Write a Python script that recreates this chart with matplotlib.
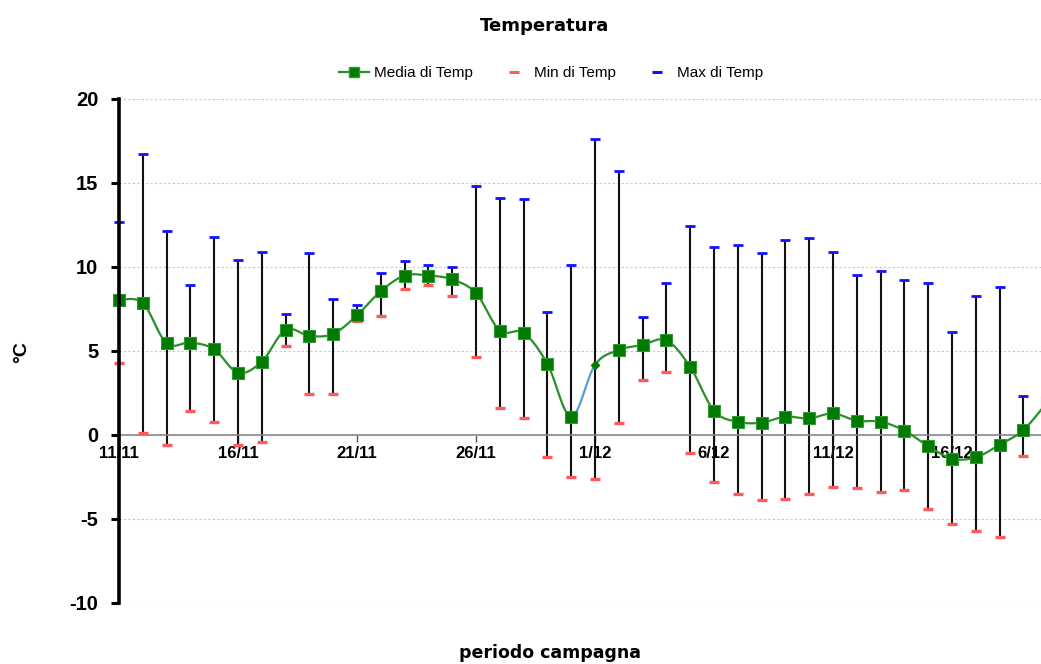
import numpy as np
import matplotlib.pyplot as plt
from matplotlib.lines import Line2D

plt.rcParams['font.family'] = ['Liberation Sans', 'DejaVu Sans']
plt.rcParams['axes.unicode_minus'] = False

# Daily labels 11/11 .. 20/12
giorni = ['11/11', '12/11', '13/11', '14/11', '15/11', '16/11', '17/11', '18/11',
          '19/11', '20/11', '21/11', '22/11', '23/11', '24/11', '25/11', '26/11',
          '27/11', '28/11', '29/11', '30/11', '1/12', '2/12', '3/12', '4/12',
          '5/12', '6/12', '7/12', '8/12', '9/12', '10/12', '11/12', '12/12',
          '13/12', '14/12', '15/12', '16/12', '17/12', '18/12', '19/12', '20/12']

media = [8.04, 7.85, 5.46, 5.50, 5.10, 3.71, 4.37, 6.26, 5.90, 6.02,
         7.13, 8.56, 9.49, 9.49, 9.26, 8.44, 6.22, 6.08, 4.23, 1.09,
         4.17, 5.06, 5.36, 5.64, 4.05, 1.45, 0.78, 0.74, 1.09, 0.99,
         1.28, 0.85, 0.79, 0.26, -0.66, -1.41, -1.33, -0.58, 0.30, 1.95]

minimi = [4.31, 0.10, -0.60, 1.40, 0.78, -0.60, -0.41, 5.30, 2.43, 2.43,
          6.79, 7.09, 8.68, 8.90, 8.28, 4.63, 1.62, 0.99, -1.29, -2.48,
          -2.62, 0.70, 3.30, 3.77, -1.09, -2.80, -3.49, -3.89, -3.81, -3.49,
          -3.12, -3.17, -3.41, -3.29, -4.40, -5.32, -5.69, -6.09, -1.27, np.nan]

massimi = [12.65, 16.74, 12.15, 8.92, 11.76, 10.43, 10.90, 7.19, 10.82, 8.12,
           7.73, 9.63, 10.33, 10.13, 10.01, 14.84, 14.12, 14.04, 7.33, 10.13,
           17.62, 15.73, 7.03, 9.02, 12.43, 11.22, 11.32, 10.82, 11.60, 11.74,
           10.90, 9.53, 9.79, 9.24, 9.02, 6.14, 8.28, 8.80, 2.31, np.nan]

# day with no measured mean (drawn as interpolated point)
giorno_interp = 20

x = np.arange(len(media), dtype=float)
y = np.array(media, dtype=float)


def smooth_segments(xs, ys, n=24):
    """Smooth curve through the points, returned one piece per segment."""
    segs = []
    N = len(xs)
    for i in range(N - 1):
        i0 = max(i - 1, 0)
        i3 = min(i + 2, N - 1)
        p0 = np.array([xs[i0], ys[i0]])
        p1 = np.array([xs[i], ys[i]])
        p2 = np.array([xs[i + 1], ys[i + 1]])
        p3 = np.array([xs[i3], ys[i3]])
        t = np.linspace(0, 1, n)[:, None]
        c1 = p1 + (p2 - p0) / 6.0
        c2 = p2 - (p3 - p1) / 6.0
        pts = ((1 - t) ** 3) * p1 + 3 * ((1 - t) ** 2) * t * c1 + 3 * (1 - t) * t ** 2 * c2 + t ** 3 * p2
        segs.append(pts)
    return segs


fig = plt.figure(figsize=(10.41, 6.64), dpi=100)
ax = fig.add_axes([119 / 1041, 1 - 603 / 664, 1 - 119 / 1041, (603 - 99) / 664])

ax.set_xlim(0, (1041 - 119) / 23.8)
ax.set_ylim(-10, 20)

# grid
ax.set_yticks([-10, -5, 0, 5, 10, 15, 20])
ax.yaxis.grid(True, linestyle=(0, (2, 2)), color='#c8c8c8', linewidth=0.8)
ax.set_axisbelow(True)

# min-max bars
ax.vlines(x, minimi, massimi, color='#111111', linewidth=1.5, zorder=2)
ax.plot(x, massimi, linestyle='none', marker='_', markersize=6.5, mew=2.0,
        color='#1010ff', zorder=3, clip_on=False)
ax.plot(x, minimi, linestyle='none', marker='_', markersize=6.5, mew=2.4,
        color='#ff5a5a', zorder=3, clip_on=False)

# smoothed mean line
segs = smooth_segments(x, y)
for i, s in enumerate(segs):
    col = '#5b9bd5' if i == giorno_interp - 1 else '#2a8f2a'
    ax.plot(s[:, 0], s[:, 1], color=col, linewidth=1.6, zorder=4,
            solid_capstyle='round')

mask = np.ones(len(x), dtype=bool)
mask[giorno_interp] = False
ax.plot(x[mask], y[mask], linestyle='none', marker='s', markersize=9.3,
        markerfacecolor='#007a00', markeredgecolor='#2f9a2f', mew=0.8, zorder=5,
        clip_on=False)
ax.plot([x[giorno_interp]], [y[giorno_interp]], linestyle='none', marker='D',
        markersize=4.5, color='#007a00', zorder=5)

# axes styling
for side in ('top', 'right'):
    ax.spines[side].set_visible(False)
ax.spines['left'].set_linewidth(2.6)
ax.spines['left'].set_color('black')
ax.spines['left'].set_zorder(6)
ax.spines['bottom'].set_position(('data', 0))
ax.spines['bottom'].set_color('#8a8a8a')
ax.spines['bottom'].set_linewidth(1.2)

tick_pos = list(range(0, len(giorni), 5))
ax.set_xticks(tick_pos)
ax.set_xticklabels([giorni[i] for i in tick_pos], fontsize=12, fontweight='bold')
ax.tick_params(axis='x', direction='out', length=5, width=1, color='#555555', pad=3)
ax.tick_params(axis='y', direction='out', length=6, width=2.2, color='black',
               labelsize=14.5, pad=9)
for lab in ax.get_yticklabels():
    lab.set_fontweight('bold')

fig.text(544 / 1041, 1 - 26 / 664, 'Temperatura', ha='center', va='center',
         fontsize=13, fontweight='bold', family='DejaVu Sans')
fig.text(550 / 1041, 1 - 653 / 664, 'periodo campagna', ha='center', va='center',
         fontsize=12.5, fontweight='bold', family='DejaVu Sans')
fig.text(22 / 1041, 1 - 352 / 664, '°C', ha='center', va='center', rotation=90,
         fontsize=14, fontweight='bold')

handles = [
    Line2D([], [], color='#2a8f2a', linewidth=1.6, marker='s', markersize=7,
           markerfacecolor='#007a00', markeredgecolor='#2f9a2f'),
    Line2D([], [], linestyle='none', marker='_', markersize=6.5, mew=2.2, color='#ff5a5a'),
    Line2D([], [], linestyle='none', marker='_', markersize=6.5, mew=2.2, color='#1010ff'),
]
fig.legend(handles, ['Media di Temp', 'Min di Temp', 'Max di Temp'],
           loc='center', bbox_to_anchor=(551 / 1041, 1 - 73 / 664), ncol=3,
           frameon=False, fontsize=11, handlelength=2.0, columnspacing=1.7,
           handletextpad=0.3)

fig.savefig('out.png', dpi=100)
